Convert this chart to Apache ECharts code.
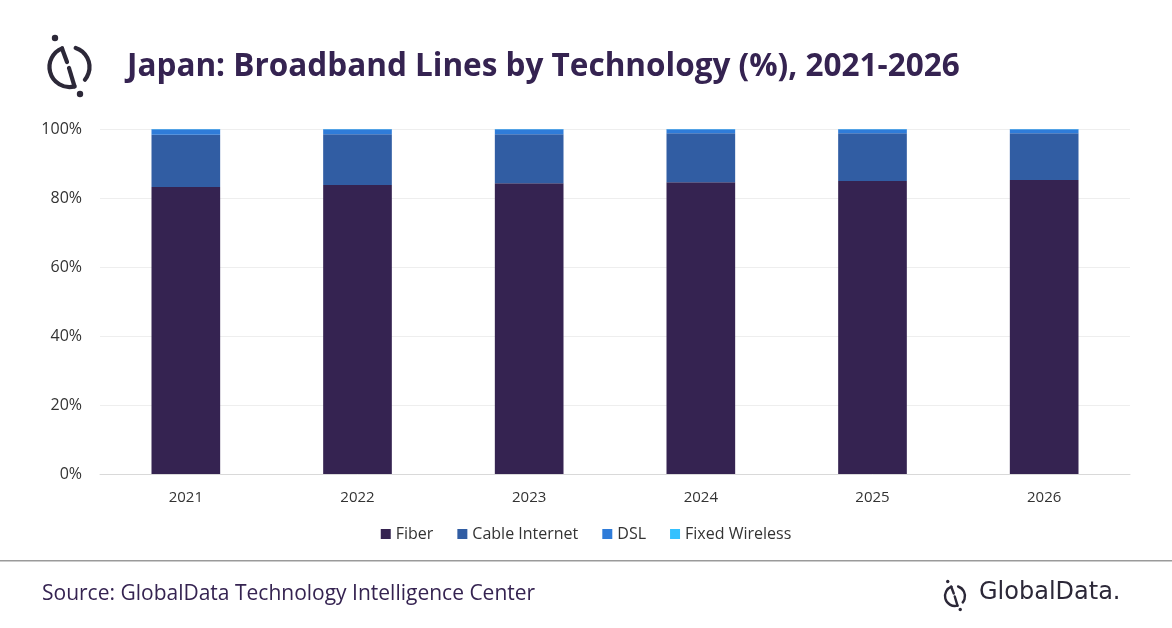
<!DOCTYPE html>
<html>
<head>
<meta charset="utf-8">
<script src="https://cdn.jsdelivr.net/npm/echarts@6/dist/echarts.min.js"></script>
<style>
  html, body { margin: 0; padding: 0; background: #fff; }
  #chart { width: 1172px; height: 628px; }
</style>
</head>
<body>
<div id="chart"></div>
<script>
'use strict';
// values (% of broadband lines)
var years = ['2021', '2022', '2023', '2024', '2025', '2026'];
var fiber = [83.2, 83.8, 84.3, 84.6, 84.9, 85.2];
var cable = [15.1, 14.7, 14.2, 14.2, 13.9, 13.6];
var dsl = [1.6, 1.4, 1.4, 1.1, 1.1, 1.1];
var fixedWireless = [0.1, 0.1, 0.1, 0.1, 0.1, 0.1];
var yTicks = [0, 20, 40, 60, 80, 100];

var colors = ['#352351', '#315da3', '#2f7cd9', '#33c1ff'];
var ink = '#352351';
var logoInk = '#2c2838';

var chart = echarts.init(document.getElementById('chart'));

function barSeries(name, data) {
  return {
    name: name,
    type: 'bar',
    stack: 'total',
    barWidth: '40%',
    data: data
  };
}

// GlobalData mark, drawn around (0,0), radius 20
function logoParts(lw, dotR) {
  var st = { stroke: logoInk, lineWidth: lw, fill: null, lineCap: 'round' };
  return [
    { type: 'arc', shape: { cx: 0, cy: 0, r: 20, startAngle: Math.PI * 0.42, endAngle: Math.PI * 1.38, clockwise: true }, style: st },
    { type: 'arc', shape: { cx: 0, cy: 0, r: 20, startAngle: Math.PI * 1.6, endAngle: Math.PI * 2.22, clockwise: true }, style: st },
    { type: 'line', shape: { x1: -7.5, y1: -18.5, x2: -2.5, y2: -5 }, style: st },
    { type: 'line', shape: { x1: -0.5, y1: 1, x2: 5, y2: 19.4 }, style: st },
    { type: 'circle', shape: { cx: -14.5, cy: -29, r: dotR }, style: { fill: logoInk } },
    { type: 'circle', shape: { cx: 10.5, cy: 27, r: dotR }, style: { fill: logoInk } }
  ];
}

var option = {
  animation: false,
  color: colors,
  title: {
    text: 'Japan: Broadband Lines by Technology (%), 2021-2026',
    left: 122,
    top: 46,
    textStyle: {
      fontFamily: 'Open Sans',
      fontWeight: 'bold',
      fontSize: 31.5,
      color: ink
    }
  },
  legend: {
    bottom: 81,
    left: 'center',
    itemWidth: 10,
    itemHeight: 10,
    itemGap: 24,
    icon: 'rect',
    textStyle: { fontFamily: 'Open Sans', fontSize: 16, color: '#333' },
    data: ['Fiber', 'Cable Internet', 'DSL', 'Fixed Wireless']
  },
  grid: { left: 100, right: 42, top: 129, bottom: 154, containLabel: false },
  xAxis: {
    type: 'category',
    data: years,
    axisTick: { show: false },
    axisLine: { lineStyle: { color: '#d9d9d9' } },
    axisLabel: { fontFamily: 'Open Sans', fontSize: 15, color: '#333', margin: 16 }
  },
  yAxis: {
    type: 'value',
    min: yTicks[0],
    max: yTicks[yTicks.length - 1],
    interval: 20,
    axisLine: { show: false },
    axisTick: { show: false },
    splitLine: { lineStyle: { color: '#eeeeee' } },
    axisLabel: {
      fontFamily: 'Open Sans', fontSize: 16, color: '#333', margin: 18,
      formatter: function (v) { return v + '%'; }
    }
  },
  series: [
    barSeries('Fiber', fiber),
    barSeries('Cable Internet', cable),
    barSeries('DSL', dsl),
    barSeries('Fixed Wireless', fixedWireless)
  ],
  graphic: [
    // title logo
    { type: 'group', x: 69.5, y: 67, children: logoParts(4.2, 3.2) },
    // footer separator
    { type: 'rect', left: 0, top: 560, shape: { width: 1172, height: 1.5 }, style: { fill: '#9a9a9a' } },
    {
      type: 'text', left: 42, top: 584,
      style: { text: 'Source: GlobalData Technology Intelligence Center', font: '21px "Open Sans"', fill: ink }
    },
    // footer logo
    { type: 'group', x: 955, y: 596, scaleX: 0.5, scaleY: 0.5, children: logoParts(4.8, 3.4) },
    {
      type: 'text', left: 979, top: 581,
      style: { text: 'GlobalData.', font: '500 24px "DejaVu Sans"', fill: logoInk }
    }
  ]
};

chart.setOption(option);
</script>
</body>
</html>
